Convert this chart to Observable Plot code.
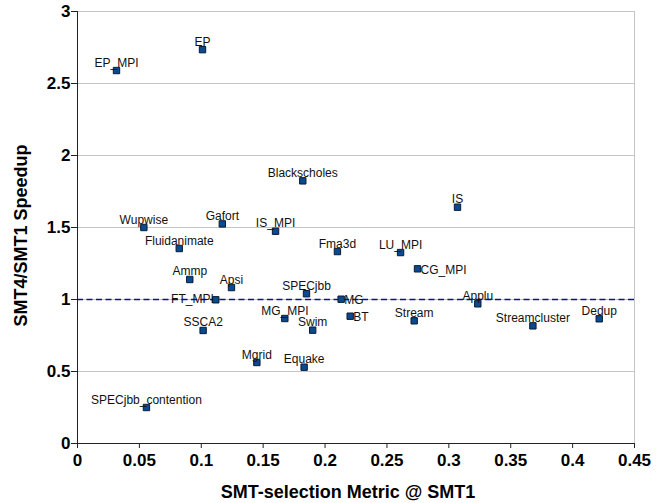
<!DOCTYPE html>
<html>
<head>
<meta charset="utf-8">
<script src="https://cdn.jsdelivr.net/npm/d3@7"></script>
<script src="https://cdn.jsdelivr.net/npm/@observablehq/plot@0.6"></script>
<style>
  html, body { margin: 0; padding: 0; background: #fff; }
  #chart svg { display: block; }
</style>
</head>
<body>
<div id="chart"></div>
<script>
// Benchmarks
const names = ["EP_MPI","EP","Blackscholes","Wupwise","Gafort","IS_MPI","Fluidanimate","Fma3d","LU_MPI","IS","CG_MPI","Ammp","Apsi","FT_MPI","SPECjbb","MG","MG_MPI","Swim","BT","SSCA2","Stream","Applu","Streamcluster","Dedup","Mgrid","Equake","SPECjbb_contention"];
// SMT-selection Metric @ SMT1
const metric = [0.0315,0.101,0.182,0.0536,0.117,0.160,0.0822,0.210,0.261,0.307,0.2747,0.0907,0.1244,0.1117,0.185,0.213,0.1675,0.190,0.2203,0.1015,0.272,0.3234,0.3679,0.4215,0.1449,0.1831,0.0557];
// SMT4/SMT1 Speedup
const speedup = [2.59,2.735,1.824,1.50,1.525,1.474,1.354,1.333,1.326,1.641,1.213,1.139,1.083,0.998,1.04,1.002,0.868,0.787,0.884,0.785,0.852,0.970,0.817,0.866,0.5625,0.530,0.25];

const xTicks = [0,0.05,0.1,0.15,0.2,0.25,0.3,0.35,0.4,0.45];
const yTicks = [0,0.5,1,1.5,2,2.5,3];
const baseline = [1];

// label placement (style)
const rightLabels = ["MG","BT","CG_MPI"];
const leftLabels = ["FT_MPI"];

const data = names.map((n, i) => ({name: n, x: metric[i], y: speedup[i]}));
const above = data.filter(d => !rightLabels.includes(d.name) && !leftLabels.includes(d.name));
const right = data.filter(d => rightLabels.includes(d.name));
const left = data.filter(d => leftLabels.includes(d.name));

const fmt = d => String(+d.toFixed(2));
const font = "'Liberation Sans', Arial, sans-serif";

const chart = Plot.plot({
  width: 667,
  height: 503,
  marginLeft: 77,
  marginRight: 33,
  marginTop: 11,
  marginBottom: 60,
  style: {fontFamily: font, background: "#fff", color: "#000"},
  x: {domain: [0, 0.45], ticks: xTicks, tickFormat: fmt},
  y: {domain: [0, 3], ticks: yTicks, tickFormat: fmt},
  marks: [
    Plot.ruleY(yTicks.filter(v => v > 0), {stroke: "#c4c4c4", strokeWidth: 1}),
    Plot.ruleX([0.45], {y1: 0, y2: 3, stroke: "#c4c4c4", strokeWidth: 1}),
    Plot.ruleY(baseline, {stroke: "#10108a", strokeWidth: 1.4, strokeDasharray: "6,3.5"}),
    Plot.axisX({ticks: xTicks, tickFormat: fmt, tickSize: 5, tickPadding: 5, fontSize: 17, fontWeight: "bold", label: null, stroke: "#222"}),
    Plot.axisY({ticks: yTicks, tickFormat: fmt, tickSize: 6, tickPadding: 1, fontSize: 17, fontWeight: "bold", label: null, stroke: "#222"}),
    Plot.ruleX([0], {y1: 0, y2: 3, stroke: "#222"}),
    Plot.ruleY([0], {x1: 0, x2: 0.45, stroke: "#222"}),
    Plot.dot(data, {x: "x", y: "y", symbol: "square", r: 3.6, fill: "#0b4a8e", stroke: "#0a1a33", strokeWidth: 1}),
    Plot.text(above, {x: "x", y: "y", text: "name", lineAnchor: "bottom", dy: -4, fontSize: 12, fill: "#111"}),
    Plot.text(right, {x: "x", y: "y", text: "name", textAnchor: "start", lineAnchor: "middle", dx: 3, dy: 1, fontSize: 12, fill: "#111"}),
    Plot.text(left, {x: "x", y: "y", text: "name", textAnchor: "end", lineAnchor: "middle", dx: -2, dy: -1, fontSize: 12, fill: "#111"}),
    Plot.text(["SMT-selection Metric @ SMT1"], {frameAnchor: "bottom", lineAnchor: "middle", dx: -8, dy: 49, fontSize: 18, fontWeight: "bold", fill: "#000"}),
    Plot.text(["SMT4/SMT1 Speedup"], {frameAnchor: "left", rotate: -90, textAnchor: "middle", lineAnchor: "middle", dx: -56, dy: 8, fontSize: 18, fontWeight: "bold", fill: "#000"})
  ]
});
document.getElementById("chart").appendChild(chart);
</script>
</body>
</html>
